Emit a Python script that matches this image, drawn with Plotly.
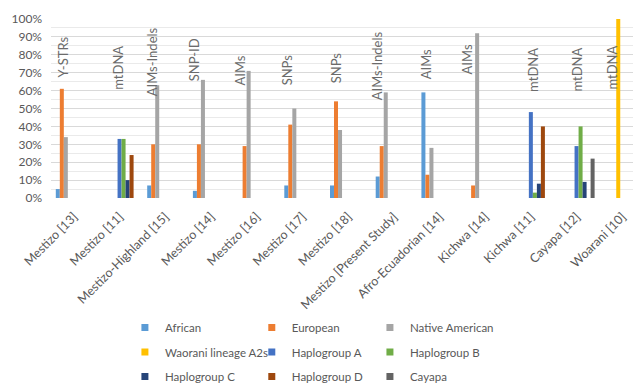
import plotly.graph_objects as go

# Populations and the marker type used in each study
categories = [
    "Mestizo [13]", "Mestizo [11]", "Mestizo-Highland [15]", "Mestizo [14]",
    "Mestizo [16]", "Mestizo [17]", "Mestizo [18]", "Mestizo [Present Study]",
    "Afro-Ecuadorian [14]", "Kichwa [14]", "Kichwa [11]", "Cayapa [12]", "Woarani [10]",
]
methods = [
    "Y-STRs", "mtDNA", "AIMs-Indels", "SNP-ID", "AIMs", "SNPs", "SNPs",
    "AIMs-Indels", "AIMs", "AIMs", "mtDNA", "mtDNA", "mtDNA",
]

# Ancestry / haplogroup proportions (%)
african = [5, None, 7, 4, None, 7, 7, 12, 59, None, None, None, None]
european = [61, None, 30, 30, 29, 41, 54, 29, 13, 7, None, None, None]
native_american = [34, None, 63, 66, 71, 50, 38, 59, 28, 92, None, None, None]
waorani_a2s = [None, None, None, None, None, None, None, None, None, None, None, None, 100]
haplogroup_a = [None, 33, None, None, None, None, None, None, None, None, 48, 29, None]
haplogroup_b = [None, 33, None, None, None, None, None, None, None, None, 3, 40, None]
haplogroup_c = [None, 10, None, None, None, None, None, None, None, None, 8, 9, None]
haplogroup_d = [None, 24, None, None, None, None, None, None, None, None, 40, None, None]
cayapa = [None, None, None, None, None, None, None, None, None, None, None, 22, None]

series = [
    ("African", african, "#5B9BD5"),
    ("European", european, "#ED7D31"),
    ("Native American", native_american, "#A5A5A5"),
    ("Waorani lineage A2s", waorani_a2s, "#FFC000"),
    ("Haplogroup A", haplogroup_a, "#4472C4"),
    ("Haplogroup B", haplogroup_b, "#70AD47"),
    ("Haplogroup C", haplogroup_c, "#264478"),
    ("Haplogroup D", haplogroup_d, "#9E480E"),
    ("Cayapa", cayapa, "#636363"),
]

FONT = "Lato"
TEXT = "#595959"

fig = go.Figure()
for name, values, color in series:
    fig.add_trace(go.Bar(
        x=categories, y=values, name=name, marker=dict(color=color, line=dict(width=0)),
        showlegend=False,
    ))

# Legend laid out as three columns of small square swatches
legend_columns = ["legend", "legend2", "legend3"]
for k, (name, values, color) in enumerate(series):
    fig.add_trace(go.Scatter(
        x=[categories[0]], y=[None], mode="markers", name=name,
        marker=dict(symbol="square", size=7, color=color),
        legend=legend_columns[k % 3], legendgroup=name, showlegend=True,
        hoverinfo="skip",
    ))

# Marker-type labels written vertically above each population
label_xshift = [-11, -1, -13, -17, -17, -15, -12, -17, -14, -18, 2, 0, -10]
label_ymid = [79, 72.5, 76, 77.5, 71, 71.5, 72.5, 74, 75, 77.5, 71.5, 71.5, 73]
for i, text in enumerate(methods):
    fig.add_annotation(
        x=i, y=label_ymid[i], xref="x", yref="y", text=text, textangle=-90,
        showarrow=False, xanchor="center", yanchor="middle", xshift=label_xshift[i],
        font=dict(family=FONT, size=13, color="#6b6b6b"),
    )

legend_style = dict(
    orientation="v", xref="paper", yref="container", yanchor="top", xanchor="left",
    font=dict(family=FONT, size=11.5, color=TEXT), tracegroupgap=5.5,
    bgcolor="rgba(0,0,0,0)", itemwidth=30,
)
fig.update_layout(
    width=633, height=385,
    margin=dict(l=51, r=0, t=19, b=187, autoexpand=False),
    paper_bgcolor="white", plot_bgcolor="white",
    barmode="group", bargap=0.21, bargroupgap=0,
    legend=dict(x=0.127, y=0.187, **legend_style),
    legend2=dict(x=0.345, y=0.187, **legend_style),
    legend3=dict(x=0.548, y=0.187, **legend_style),
    xaxis=dict(
        type="category", range=[-0.5, 12.235], showgrid=False, showline=False,
        ticks="", tickangle=-45, ticklabelstandoff=8,
        tickfont=dict(family=FONT, size=12.5, color=TEXT),
        zeroline=False,
    ),
    yaxis=dict(
        range=[0, 100], dtick=10, ticksuffix="%", showline=False, zeroline=False,
        gridcolor="#D9D9D9", gridwidth=1, ticks="", ticklabelstandoff=8,
        tickfont=dict(family=FONT, size=12, color=TEXT),
        minor=dict(dtick=5, showgrid=True, gridcolor="#EAEAEA", gridwidth=1),
    ),
    showlegend=True,
)

fig.write_html("out.html")
